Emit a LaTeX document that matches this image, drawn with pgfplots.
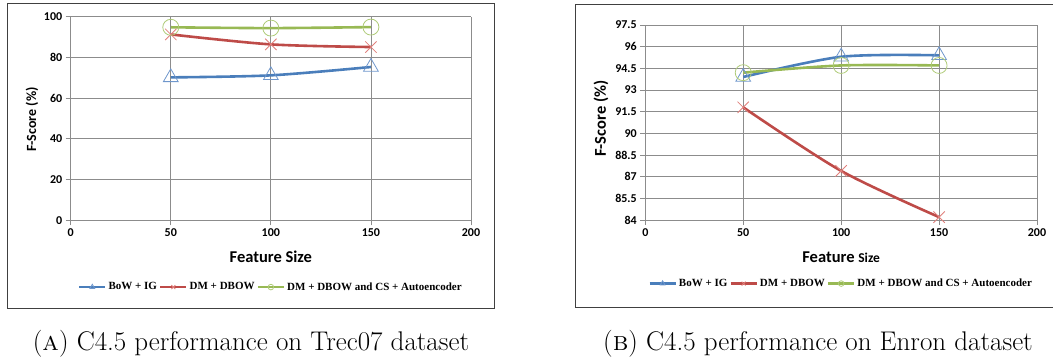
\documentclass[border=0pt]{standalone}
\usepackage{fontspec}
\usepackage{pgfplots}
\pgfplotsset{compat=1.18}
\usepackage{pgfplotstable}
\newfontfamily\carlito{Carlito}
\newfontfamily\tnr{Liberation Serif}
\definecolor{lblue}{HTML}{4A7EBB}
\definecolor{lred}{HTML}{BE4B48}
\definecolor{lgreen}{HTML}{98B954}
\definecolor{mblue}{HTML}{6F97CC}
\definecolor{mred}{HTML}{E0807C}
\definecolor{mgreen}{HTML}{AFCB78}
\definecolor{gridc}{HTML}{8C8C8C}
\definecolor{framec}{HTML}{404040}

\pgfplotstableread{
x bow dm dmcs
50 70.2 91.3 94.8
100 71.2 86.4 94.4
150 75.3 85.1 94.9
}\trec

\pgfplotstableread{
x bow dm dmcs
50 93.9 91.8 94.2
100 95.3 87.4 94.7
150 95.4 84.2 94.7
}\enron

\pgfplotsset{
  mystyle/.style={
    scale only axis,
    xmin=0, xmax=200,
    xtick={0,50,100,150,200},
    grid=major,
    grid style={gridc, line width=0.8pt},
    axis line style={gridc, line width=0.8pt},
    tick style={gridc, line width=0.8pt},
    tick align=outside,
    major tick length=5pt,
    axis x line*=bottom,
    axis y line*=left,
    tick label style={font=\carlito\bfseries\fontsize{12}{12}\selectfont},
    /pgf/number format/assume math mode=true,
    legend columns=3,
    legend style={draw=none, fill=none, font=\tnr\bfseries\fontsize{11}{11}\selectfont,
      anchor=center, /tikz/every even column/.append style={column sep=0pt},
      inner sep=0pt},
    legend image code/.code={%
      \draw[#1, mark=none] (0pt,0pt) -- (26pt,0pt);
      \draw[#1] plot[only marks, mark size=2.8pt] coordinates {(13pt,0pt)};},
    legend cell align=left,
  },
  bowline/.style={lblue, line width=2.6pt, smooth, mark=triangle, mark size=8.5pt,
     mark options={mblue, line width=0.8pt, solid}},
  dmline/.style={lred, line width=2.6pt, smooth, mark=x, mark size=8pt,
     mark options={mred, line width=0.8pt, solid}},
  csline/.style={lgreen, line width=2.6pt, smooth, mark=o, mark size=8pt,
     mark options={mgreen, line width=0.8pt, solid}},
}

\begin{document}
\begin{tikzpicture}[x=1pt,y=1pt]
\useasboundingbox (0,0) rectangle (1053,362);
% frames
\draw[framec, line width=1pt] (7,54) rectangle (494,358);
\draw[framec, line width=1pt] (1053,357) -- (575,357) -- (575,55) -- (1053,55);

\begin{axis}[mystyle,
  at={(70.7pt,141.7pt)}, anchor=south west,
  width=400.3pt, height=203.6pt,
  ymin=0, ymax=100, ytick={0,20,40,60,80,100},
  xlabel={\carlito\bfseries\fontsize{16.5}{16.5}\selectfont Feature Size},
  xlabel style={at={(axis description cs:0.5,-0.18)}, anchor=center},
  ylabel={\carlito\bfseries\fontsize{14}{14}\selectfont F-Score (\%)},
  ylabel style={at={(axis description cs:-0.097,0.495)}, anchor=center},
  legend style={at={(axis description cs:0.5,-0.328)}},
]
\addplot[bowline] table[x=x,y=bow] {\trec};
\addplot[dmline] table[x=x,y=dm] {\trec};
\addplot[csline] table[x=x,y=dmcs] {\trec};
\legend{BoW + IG,DM + DBOW,DM + DBOW and CS + Autoencoder}
\end{axis}

\begin{axis}[mystyle,
  at={(645.3pt,142pt)}, anchor=south west,
  width=391.7pt, height=195pt,
  ymin=84, ymax=97.5, ytick={84,85.5,87,88.5,90,91.5,93,94.5,96,97.5},
  yticklabel style={/pgf/number format/.cd, fixed, precision=1},
  xlabel={\carlito\bfseries\fontsize{16.5}{16.5}\selectfont Feature {\fontsize{13.5}{13.5}\selectfont Size}},
  xlabel style={at={(axis description cs:0.5,-0.19)}, anchor=center},
  ylabel={\carlito\bfseries\fontsize{16.5}{16.5}\selectfont F-Score (\%)},
  ylabel style={at={(axis description cs:-0.113,0.52)}, anchor=center},
  legend style={at={(axis description cs:0.5,-0.326)}},
]
\addplot[bowline] table[x=x,y=bow] {\enron};
\addplot[dmline] table[x=x,y=dm] {\enron};
\addplot[csline] table[x=x,y=dmcs] {\enron};
\legend{BoW + IG,DM + DBOW,DM + DBOW and CS + Autoencoder}
\end{axis}

\node[anchor=base, font=\fontsize{27}{27}\selectfont, inner sep=0pt] at (251,12) {(\textsc{a}) C4.5 performance on Trec07 dataset};
\node[anchor=base, font=\fontsize{27}{27}\selectfont, inner sep=0pt] at (818,12) {(\textsc{b}) C4.5 performance on Enron dataset};
\end{tikzpicture}
\end{document}
